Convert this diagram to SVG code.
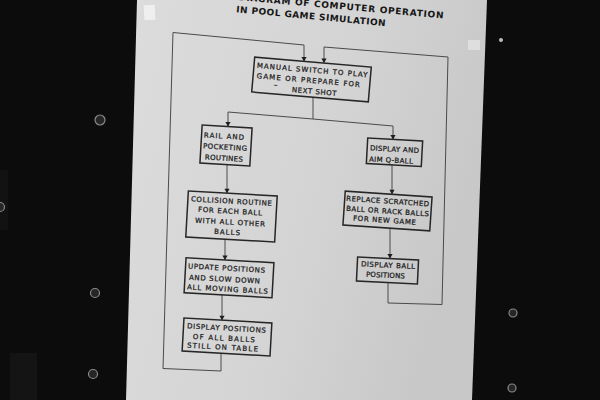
<svg xmlns="http://www.w3.org/2000/svg" width="600" height="400" viewBox="0 0 600 400">
<defs>
<linearGradient id="paper" x1="0" y1="0" x2="1" y2="0.3">
<stop offset="0" stop-color="#dcdcdc"/>
<stop offset="0.6" stop-color="#d4d4d4"/>
<stop offset="1" stop-color="#c8c8c8"/>
</linearGradient>
<marker id="arr" viewBox="-5 -3 6 6" refX="0" refY="0" markerWidth="6" markerHeight="6" markerUnits="userSpaceOnUse" orient="auto">
<path d="M-4.5,-2.6 L0,0 L-4.5,2.6 Z" fill="#1e1e1e"/>
</marker>
<style>
.box{fill:none;stroke:#262626;stroke-width:1.5}
.t{font-family:"DejaVu Sans","Liberation Sans",sans-serif;font-size:7px;fill:#1c1c1c;stroke:#1c1c1c;stroke-width:0.25}
.title{font-family:"DejaVu Sans","Liberation Sans",sans-serif;font-size:9px;font-weight:bold;fill:#161616}
.c{fill:none;stroke:#4a4a4a;stroke-width:1}
.screw{fill:#262626;stroke:#8a8a8a;stroke-width:1.2}
</style>
</defs>
<rect x="0" y="0" width="600" height="400" fill="#0c0c0c"/>
<rect x="10" y="353" width="27" height="47" fill="#141414"/>
<rect x="0" y="170" width="8" height="60" fill="#121212"/>
<g id="screws">
<circle class="screw" cx="100" cy="120" r="5"/>
<circle class="screw" cx="95" cy="293" r="4.5"/>
<circle class="screw" cx="93" cy="374" r="4.5"/>
<circle class="screw" cx="0" cy="207" r="4.5"/>
<circle cx="501" cy="40" r="2" fill="#bdbdbd"/>
<circle class="screw" cx="513" cy="313" r="4"/>
<circle class="screw" cx="512" cy="388" r="4"/>
</g>
<polygon points="137,0 487,0 472,400 126,400" fill="url(#paper)"/>
<rect x="144" y="5" width="11" height="15" fill="#efefef" transform="rotate(-3 149 12)"/>
<rect x="468" y="40" width="12" height="10" fill="#e2e2e2" opacity="0.8"/>
<text class="title" transform="translate(238,0) rotate(5.14)" x="0" y="0" textLength="206" lengthAdjust="spacing">DIAGRAM OF COMPUTER OPERATION</text>
<text class="title" transform="translate(236,12.3) rotate(5.3)" x="0" y="0" textLength="150" lengthAdjust="spacing">IN POOL GAME SIMULATION</text>
<g id="connectors">
<path class="c" d="M313,97.1 L313,119"/>
<path class="c" d="M313,119 L228,112 L228,126.6" marker-end="url(#arr)"/>
<path class="c" d="M313,119 L393,126 L393,139.4" marker-end="url(#arr)"/>
<path class="c" d="M227,164.6 L227,193.2" marker-end="url(#arr)"/>
<path class="c" d="M225,239.1 L225,260" marker-end="url(#arr)"/>
<path class="c" d="M222,294.9 L222,320.2" marker-end="url(#arr)"/>
<path class="c" d="M221,353.2 L221,371 L163,368.5 L173,32.5 L304,45 L304,61.4" marker-end="url(#arr)"/>
<path class="c" d="M392,164.9 L392,194.3" marker-end="url(#arr)"/>
<path class="c" d="M390,228.2 L390,258.6" marker-end="url(#arr)"/>
<path class="c" d="M388,282.5 L388,303 L442,304.5 L448,57 L324,47 L324,63.1" marker-end="url(#arr)"/>
</g>
<g id="n1" transform="translate(311.5,79.5) rotate(4.9)">
<rect class="box" x="-58.5" y="-17.5" width="117" height="35"/>
<text class="t" x="-55.6" y="-7" textLength="111" lengthAdjust="spacing">MANUAL SWITCH TO PLAY</text>
<text class="t" x="-54.8" y="3.4" textLength="103.5" lengthAdjust="spacing">GAME OR PREPARE FOR</text>
<text class="t" x="-37" y="10.8">–</text>
<text class="t" x="-18.5" y="14.1" textLength="44.5" lengthAdjust="spacing">NEXT SHOT</text>
</g>
<g id="n2" transform="translate(226,145.5) rotate(3.4)">
<rect class="box" x="-25" y="-19" width="50" height="38"/>
<text class="t" x="-22.6" y="-6.8" textLength="40" lengthAdjust="spacing">RAIL AND</text>
<text class="t" x="-22.9" y="4.2" textLength="44" lengthAdjust="spacing">POCKETING</text>
<text class="t" x="-20.3" y="15.2" textLength="38" lengthAdjust="spacing">ROUTINES</text>
</g>
<g id="n3" transform="translate(231.5,216.5) rotate(3.2)">
<rect class="box" x="-44.5" y="-23" width="89" height="46"/>
<text class="t" x="-41.4" y="-12.9" textLength="81" lengthAdjust="spacing">COLLISION ROUTINE</text>
<text class="t" x="-33.8" y="-2.8" textLength="64" lengthAdjust="spacing">FOR EACH BALL</text>
<text class="t" x="-36.2" y="8.2" textLength="70" lengthAdjust="spacing">WITH ALL OTHER</text>
<text class="t" x="-16.6" y="18.3" textLength="26" lengthAdjust="spacing">BALLS</text>
</g>
<g id="n4" transform="translate(229,277.75) rotate(3.2)">
<rect class="box" x="-44" y="-17.5" width="88" height="35"/>
<text class="t" x="-41.5" y="-7" textLength="77" lengthAdjust="spacing">UPDATE POSITIONS</text>
<text class="t" x="-39.9" y="4.1" textLength="71" lengthAdjust="spacing">AND SLOW DOWN</text>
<text class="t" x="-41.4" y="13.9" textLength="81" lengthAdjust="spacing">ALL MOVING BALLS</text>
</g>
<g id="n5" transform="translate(227,337) rotate(3.2)">
<rect class="box" x="-44" y="-16.5" width="88" height="33"/>
<text class="t" x="-40.5" y="-6.4" textLength="79" lengthAdjust="spacing">DISPLAY POSITIONS</text>
<text class="t" x="-34" y="3.8" textLength="62" lengthAdjust="spacing">OF ALL BALLS</text>
<text class="t" x="-39.4" y="12.85" textLength="71" lengthAdjust="spacing">STILL ON TABLE</text>
</g>
<g id="n6" transform="translate(394.5,152.25) rotate(3.1)">
<rect class="box" x="-27.5" y="-12.75" width="55" height="25.5"/>
<text class="t" x="-24.7" y="-0.65" textLength="49" lengthAdjust="spacing">DISPLAY AND</text>
<text class="t" x="-25.1" y="10.5" textLength="44" lengthAdjust="spacing">AIM Q-BALL</text>
</g>
<g id="n7" transform="translate(387.5,211) rotate(3.9)">
<rect class="box" x="-43.5" y="-17" width="87" height="34"/>
<text class="t" x="-42" y="-7.4" textLength="83" lengthAdjust="spacing">REPLACE SCRATCHED</text>
<text class="t" x="-41.5" y="2.6" textLength="83" lengthAdjust="spacing">BALL OR RACK BALLS</text>
<text class="t" x="-33.9" y="11.8" textLength="63" lengthAdjust="spacing">FOR NEW GAME</text>
</g>
<g id="n8" transform="translate(387.5,270.5) rotate(2.8)">
<rect class="box" x="-30.5" y="-12" width="61" height="24"/>
<text class="t" x="-26.8" y="-2.9" textLength="54" lengthAdjust="spacing">DISPLAY BALL</text>
<text class="t" x="-21.3" y="7.2" textLength="39" lengthAdjust="spacing">POSITIONS</text>
</g>
</svg>
